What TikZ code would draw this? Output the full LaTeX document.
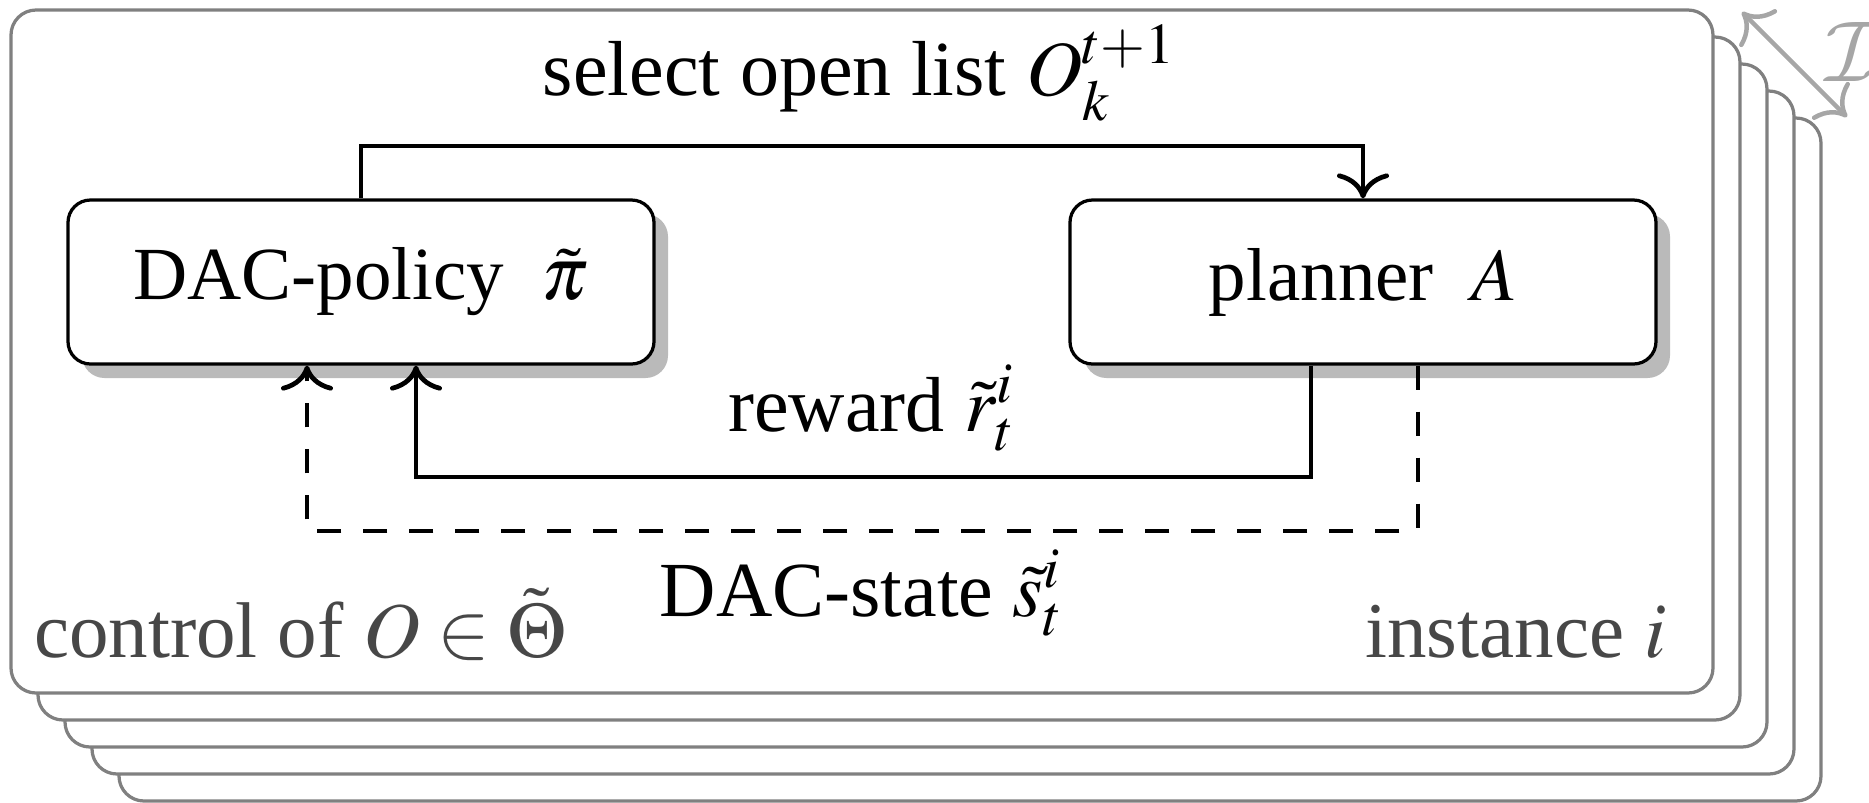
\documentclass[tikz,border=0pt]{standalone}
\usepackage{mathptmx}
\DeclareMathAlphabet{\mathcal}{OMS}{cmsy}{m}{n}
\usepackage{fontspec}
\setmainfont{Liberation Serif}
\usetikzlibrary{arrows.meta,shadows,calc}
\begin{document}
\begin{tikzpicture}[x=0.2pt,y=-0.2pt,
  font=\fontsize{15.6}{18}\selectfont,
  card/.style={draw=black!50,fill=white,line width=0.65pt,rounded corners=5pt},
  box/.style={draw=black,fill=white,line width=0.65pt,rounded corners=4.5pt,
    font=\fontsize{15}{18}\selectfont,
    minimum width=117.2pt,minimum height=32.8pt,inner sep=0pt,
    drop shadow={shadow xshift=2.8pt,shadow yshift=-2.8pt,fill=black!27,opacity=1}},
  conn/.style={line width=0.95pt,-{To[length=5pt,width=10.4pt]}},
  lbl/.style={inner sep=0pt,anchor=base},
  glbl/.style={inner sep=0pt,text=black!72,font=\fontsize{15.8}{18}\selectfont}]
\useasboundingbox (0,0) rectangle (1869,802);
\clip (0,0) rectangle (1869,802);
% stacked instance cards
\foreach \k in {4,3,2,1,0}
  \draw[card] ({11+27*\k},{10+27*\k}) rectangle ++(1702,683);
% instance-set arrow
\coordinate (ia) at (1742,12);
\coordinate (ib) at (1847,117);
\draw[draw=black!35,line width=0.9pt,{To[length=5pt,width=10.4pt]}-{To[length=5pt,width=10.4pt]}] (ia) -- (ib);
\node[inner sep=0pt,anchor=west,text=black!35,font=\fontsize{16}{18}\selectfont] (iset) at (1824,52) {$\mathcal{I}$};
% main nodes
\node[box] (dac) at (361,282) {DAC-policy\enspace$\tilde{\pi}$};
\node[box] (plan) at (1363,282) {planner\enspace$A$};
% connectors
\coordinate (top) at (361,146);
\draw[conn] (dac.north) -- (dac.north |- top) -- (plan.north |- top) -- (plan.north);
\coordinate (rwa) at (1311,477);
\coordinate (rwb) at (416,477);
\draw[conn] (plan.south -| rwa) -- (rwa) -- (rwb) -- (dac.south -| rwb);
\coordinate (dsa) at (1418,531);
\coordinate (dsb) at (307,531);
\draw[conn,dash pattern=on 4.8pt off 4.4pt] (plan.south -| dsa) -- (dsa) -- (dsb) -- (dac.south -| dsb);
% labels
\node[lbl] (sel) at (860,95) {select open list $O_k^{t+1}$};
\node[lbl] (rew) at (872,431) {reward $\tilde{r}^i_t$};
\node[lbl] (st) at (862,616) {DAC-state $\tilde{s}^i_t$};
\node[glbl,anchor=base west] (ctl) at (33,657) {control of $O \in \tilde{\Theta}$};
\node[glbl,anchor=base east] (inst) at (1667,657) {instance $i$};
\end{tikzpicture}
\end{document}
